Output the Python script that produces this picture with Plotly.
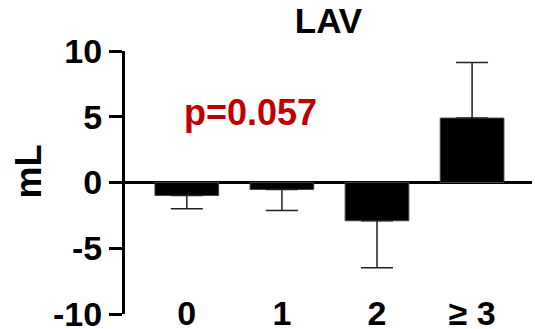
import plotly.graph_objects as go

categories = ["0", "1", "2", "≥ 3"]
means = [-0.99, -0.53, -2.91, 4.9]
err_plus = [0, 0, 0, 4.23]
err_minus = [1.01, 1.6, 3.58, 0]
y_ticks = [-10, -5, 0, 5, 10]
y_tick_labels = ["-10", "-5", "0", "5", "10"]
p_text = "p=0.057"
title_text = "LAV"
y_label = "mL"

FONT = "Liberation Sans, Arial, sans-serif"
xpos = list(range(len(categories)))

fig = go.Figure()
fig.add_trace(go.Bar(
    x=xpos, y=means, width=0.67,
    marker=dict(color="black", line=dict(color="#444444", width=1)),
    error_y=dict(type="data", symmetric=False, array=err_plus, arrayminus=err_minus,
                 color="#222222", thickness=1.5, width=16),
    showlegend=False,
))

fig.add_annotation(x=0.67, y=5.3, xref="x", yref="y", text=p_text, showarrow=False,
                   font=dict(family=FONT, size=36, color="#C00000", weight="bold"))

fig.add_annotation(x=-0.238, y=0.542, xref="paper", yref="paper", text=y_label,
                   textangle=-90, showarrow=False, xanchor="center", yanchor="middle",
                   font=dict(family=FONT, size=36, color="black", weight="bold"))

fig.update_layout(
    width=535, height=329,
    margin=dict(l=125, r=3, t=51, b=15),
    plot_bgcolor="white", paper_bgcolor="white",
    title=dict(text=title_text, x=0.5, xref="paper", y=1 - 21 / 329, yanchor="middle",
               xanchor="center",
               font=dict(family=FONT, size=35, color="black", weight="bold")),
    xaxis=dict(
        range=[-0.65, 3.63], tickmode="array", tickvals=xpos, ticktext=categories,
        showline=False, showgrid=False, zeroline=False, ticks="",
        anchor="free", position=0.09, automargin=False, ticklabeloverflow="allow",
        tickfont=dict(family=FONT, size=34, color="black", weight="bold"),
    ),
    yaxis=dict(
        range=[-10, 10], tickmode="array", tickvals=y_ticks, ticktext=y_tick_labels,
        showline=True, linecolor="black", linewidth=3, automargin=False,
        ticklabeloverflow="allow",
        ticks="outside", ticklen=13, tickwidth=3, tickcolor="black",
        showgrid=False, zeroline=True, zerolinecolor="black", zerolinewidth=3,
        tickfont=dict(family=FONT, size=34, color="black", weight="bold"),
    ),
)

fig.write_html("out.html")
